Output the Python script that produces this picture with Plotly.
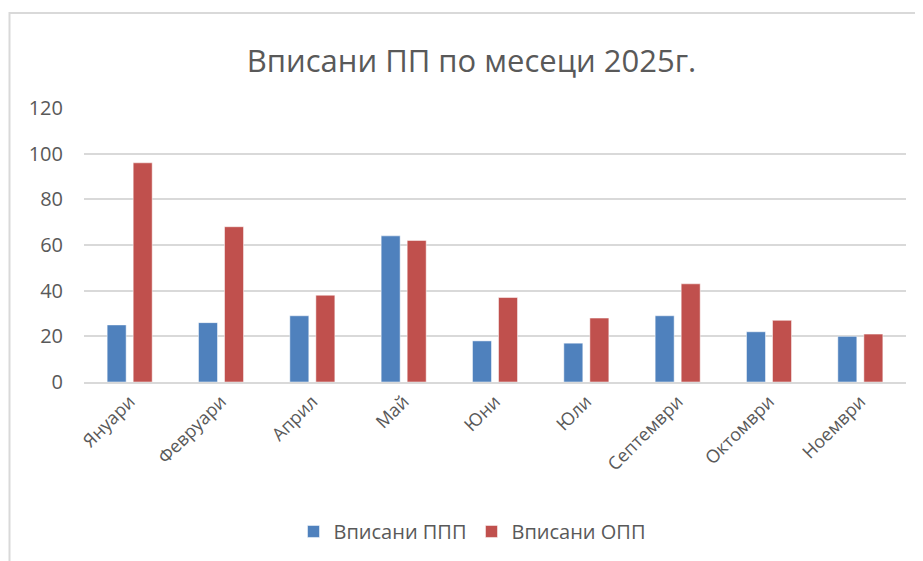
import plotly.graph_objects as go

months = ["Януари", "Февруари", "Април", "Май", "Юни", "Юли", "Септември", "Октомври", "Ноември"]
ppp = [25, 26, 29, 64, 18, 17, 29, 22, 20]
opp = [96, 68, 38, 62, 37, 28, 43, 27, 21]
series_names = ["Вписани ППП", "Вписани ОПП"]
title_text = "Вписани ПП по месеци 2025г."
y_ticks = [0, 20, 40, 60, 80, 100, 120]

FONT = "Open Sans"
TXT = "#595959"
OFF = 8  # page body margin

W, H = 915, 553
L, T = 84 - OFF, 108 - OFF
R = W - (906 - OFF)
B = H - (381.7 - OFF)
pw = W - L - R
ph = H - T - B


def px_x(p):
    return (p - OFF - L) / pw


def px_y(p):
    return (H - B - (p - OFF)) / ph


fig = go.Figure()
fig.add_trace(go.Bar(x=months, y=ppp, name=series_names[0],
                     marker=dict(color="#4F81BD", line=dict(color="white", width=0.5))))
fig.add_trace(go.Bar(x=months, y=opp, name=series_names[1],
                     marker=dict(color="#C0504D", line=dict(color="white", width=0.5))))

fig.update_layout(
    width=W, height=H,
    margin=dict(l=L, r=R, t=T, b=B, autoexpand=False),
    paper_bgcolor="white", plot_bgcolor="white",
    font=dict(family=FONT, color=TXT, size=18),
    title=dict(text=title_text, x=(471.5 - OFF) / W, xanchor="center",
               y=1 - (61 - OFF) / H, yanchor="middle",
               font=dict(family=FONT, size=31, color=TXT)),
    barmode="group", bargap=0.43, bargroupgap=0.27,
    showlegend=True,
    legend=dict(orientation="h", x=px_x(472), xanchor="center", y=px_y(531), yanchor="middle",
                font=dict(family=FONT, size=20, color=TXT), itemwidth=30, traceorder="normal"),
    xaxis=dict(tickangle=-45, showgrid=False, showline=True, linecolor="#D9D9D9", linewidth=2,
               tickfont=dict(family=FONT, size=18, color=TXT), ticks=""),
    yaxis=dict(range=[0, 120], tickvals=y_ticks, showgrid=True, gridcolor="#D9D9D9", gridwidth=2,
               zeroline=False, showline=False, ticks="", ticklabelstandoff=20,
               tickfont=dict(family=FONT, size=20, color=TXT)),
)

fig.add_shape(type="rect", xref="paper", yref="paper",
              x0=px_x(9.5), x1=px_x(960), y0=px_y(700), y1=px_y(13),
              line=dict(color="#D9D9D9", width=2), fillcolor="rgba(0,0,0,0)", layer="below")

fig.write_html("out.html")
